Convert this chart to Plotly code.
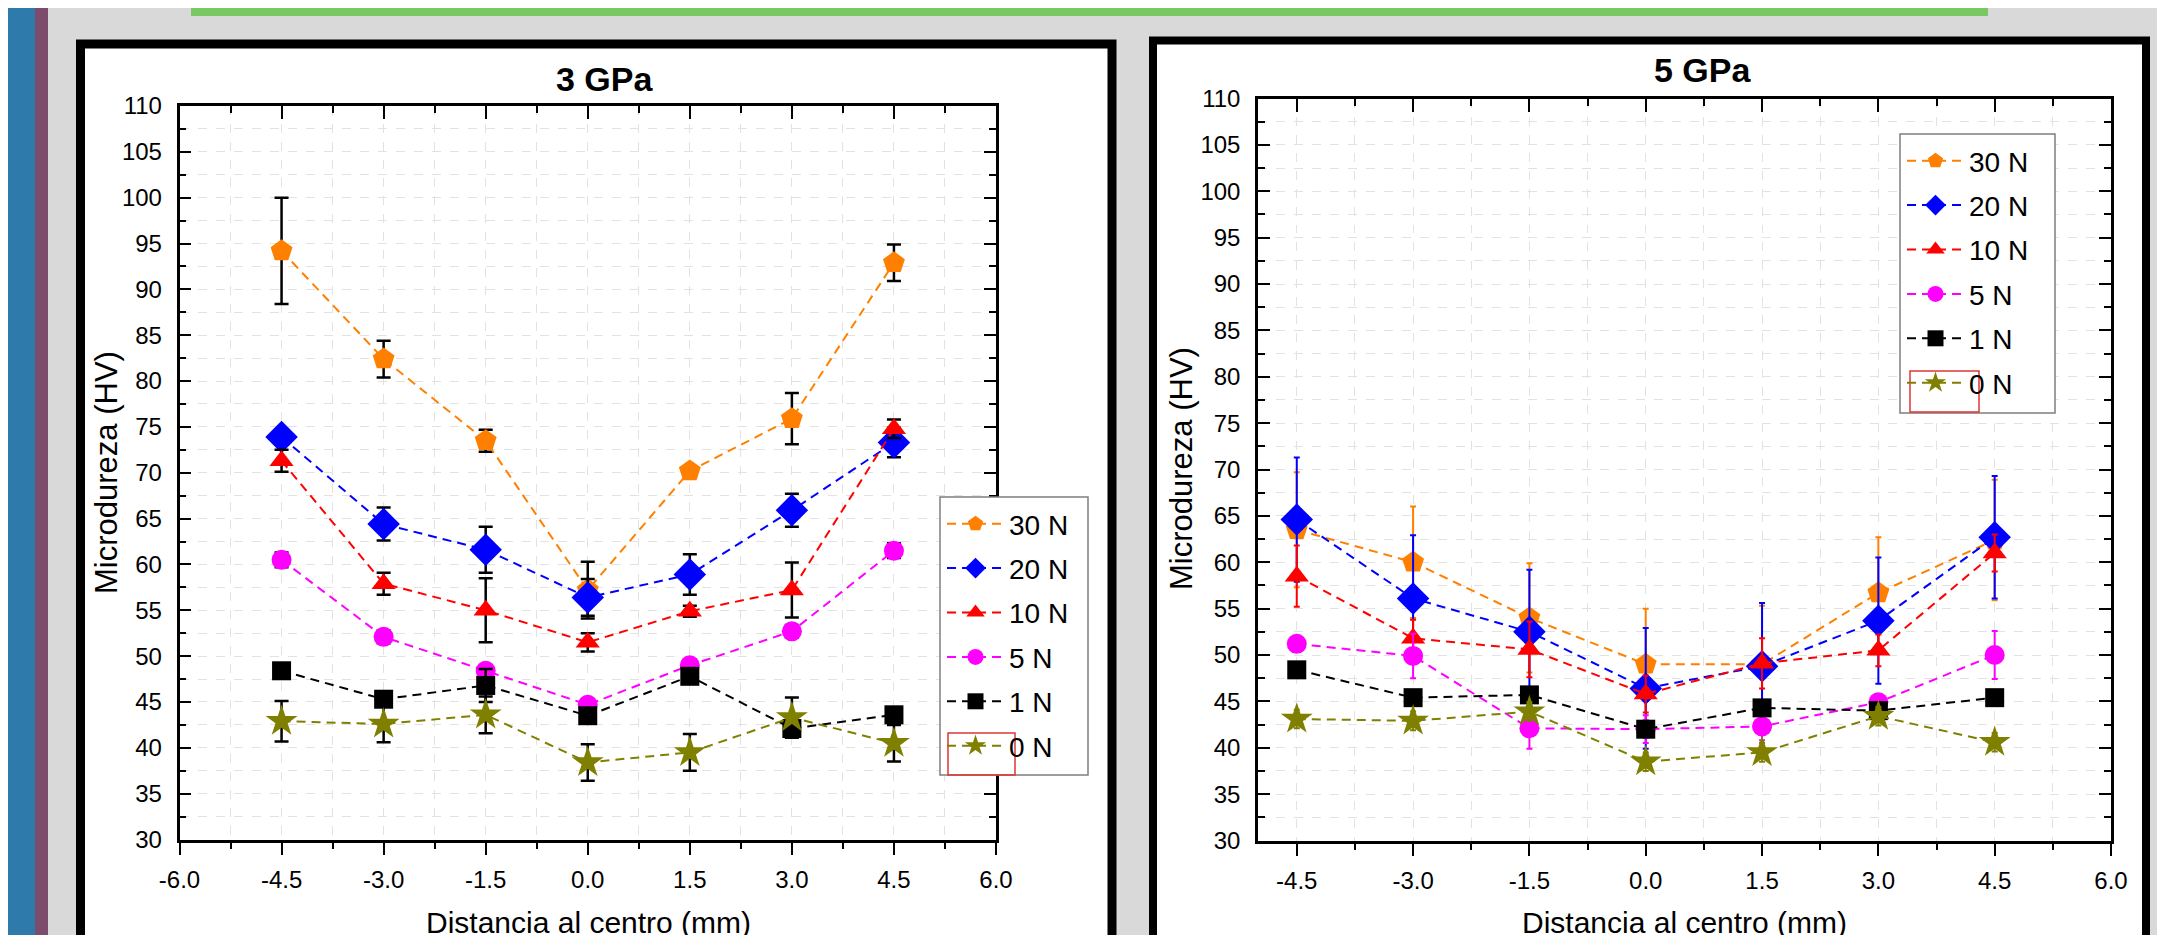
import plotly.graph_objects as go

W, H = 2165, 935

# ---------------- data ----------------
x_pos = [-4.5, -3.0, -1.5, 0.0, 1.5, 3.0, 4.5]
loads = ["30 N", "20 N", "10 N", "5 N", "1 N", "0 N"]

# 3 GPa
hv3_30N = [94.2, 82.4, 73.5, 57.2, 70.2, 75.9, 92.9]
err3_30N = [5.8, 2.0, 1.2, 3.1, 0.5, 2.8, 2.0]
hv3_20N = [73.9, 64.4, 61.6, 56.4, 58.9, 65.9, 73.3]
err3_20N = [0.6, 1.8, 2.5, 2.0, 2.2, 1.8, 1.6]
hv3_10N = [71.3, 57.9, 55.0, 51.5, 54.9, 57.2, 74.8]
err3_10N = [1.2, 1.2, 3.5, 1.0, 0.6, 3.0, 1.0]
hv3_5N = [60.5, 52.1, 48.4, 44.7, 49.0, 52.7, 61.5]
err3_5N = [0.8, 0.7, 0.5, 0.5, 0.5, 0.7, 0.8]
hv3_1N = [48.4, 45.3, 46.8, 43.5, 47.8, 42.1, 43.6]
err3_1N = [0.3, 0.5, 1.8, 0.8, 0.8, 0.5, 0.3]
hv3_0N = [42.9, 42.6, 43.6, 38.4, 39.5, 43.3, 40.5]
err3_0N = [2.2, 2.0, 2.0, 2.0, 2.0, 2.2, 2.0]

# 5 GPa
hv5_30N = [63.5, 60.0, 54.0, 49.0, 49.0, 56.7, 62.4]
err5_30N = [6.2, 6.0, 5.9, 6.0, 6.3, 6.0, 6.5]
hv5_20N = [64.6, 56.1, 52.5, 46.4, 48.8, 53.7, 62.7]
err5_20N = [6.7, 6.8, 6.7, 6.5, 6.8, 6.8, 6.6]
hv5_10N = [58.5, 51.8, 50.6, 45.8, 49.1, 50.5, 61.0]
err5_10N = [3.3, 2.0, 3.0, 2.0, 2.7, 1.7, 2.0]
hv5_5N = [51.2, 49.9, 42.1, 42.0, 42.3, 44.9, 50.0]
err5_5N = [0.8, 2.4, 2.2, 1.5, 1.5, 0.8, 2.6]
hv5_1N = [48.4, 45.4, 45.7, 42.0, 44.3, 44.0, 45.4]
err5_1N = [0.8, 0.8, 0.8, 0.8, 0.8, 0.8, 0.8]
hv5_0N = [43.1, 42.9, 43.9, 38.5, 39.5, 43.4, 40.6]
err5_0N = [1.0, 1.0, 1.0, 1.0, 1.0, 1.0, 1.0]

y_ticks = [30, 35, 40, 45, 50, 55, 60, 65, 70, 75, 80, 85, 90, 95, 100, 105, 110]
y_tick_labels = [str(v) for v in y_ticks]
x_ticks_3 = [-6.0, -4.5, -3.0, -1.5, 0.0, 1.5, 3.0, 4.5, 6.0]
x_tick_labels_3 = ["-6.0", "-4.5", "-3.0", "-1.5", "0.0", "1.5", "3.0", "4.5", "6.0"]
x_ticks_5 = [-4.5, -3.0, -1.5, 0.0, 1.5, 3.0, 4.5, 6.0]
x_tick_labels_5 = ["-4.5", "-3.0", "-1.5", "0.0", "1.5", "3.0", "4.5", "6.0"]

titles = ["3 GPa", "5 GPa"]
x_title = "Distancia al centro (mm)"
y_title = "Microdureza (HV)"

# ---------------- styles ----------------
colors = ["#FF8000", "#0000FF", "#FF0000", "#FF00FF", "#000000", "#808000"]
symbols = ["pentagon", "diamond", "triangle-up", "circle", "square", "star"]
msizes = [23, 25, 21, 20, 19, 24]
FONT = "Liberation Sans, Arial, sans-serif"


def px(x):
    return x / W


def py(y):
    return 1 - y / H


series3 = [(hv3_30N, err3_30N), (hv3_20N, err3_20N), (hv3_10N, err3_10N),
           (hv3_5N, err3_5N), (hv3_1N, err3_1N), (hv3_0N, err3_0N)]
series5 = [(hv5_30N, err5_30N), (hv5_20N, err5_20N), (hv5_10N, err5_10N),
           (hv5_5N, err5_5N), (hv5_1N, err5_1N), (hv5_0N, err5_0N)]

fig = go.Figure()

for i, (vals, errs) in enumerate(series3):
    fig.add_trace(go.Scatter(
        x=x_pos, y=vals, name=loads[i], mode="lines+markers",
        xaxis="x", yaxis="y", legend="legend", legendgroup="a%d" % i,
        line=dict(color=colors[i], width=2, dash="9px,6px"),
        marker=dict(symbol=symbols[i], size=msizes[i], color=colors[i], line=dict(width=0)),
        error_y=dict(type="data", array=errs, color="black", thickness=2.5, width=7),
    ))

for i, (vals, errs) in enumerate(series5):
    fig.add_trace(go.Scatter(
        x=x_pos, y=vals, name=loads[i], mode="lines+markers",
        xaxis="x2", yaxis="y2", legend="legend2", legendgroup="b%d" % i,
        line=dict(color=colors[i], width=2, dash="9px,6px"),
        marker=dict(symbol=symbols[i], size=msizes[i], color=colors[i], line=dict(width=0)),
        error_y=dict(type="data", array=errs, color=colors[i], thickness=2, width=3),
    ))

# empty helpers so the top tick axes render
fig.add_trace(go.Scatter(x=[None], y=[None], xaxis="x3", yaxis="y", showlegend=False, hoverinfo="skip"))
fig.add_trace(go.Scatter(x=[None], y=[None], xaxis="x4", yaxis="y2", showlegend=False, hoverinfo="skip"))

grid = dict(showgrid=True, gridcolor="#e2e2e2", griddash="dash", gridwidth=1)


def xaxis_main(dom, rng, tv, tt, anchor):
    return dict(domain=dom, range=rng, anchor=anchor, tickmode="array", tickvals=tv, ticktext=tt,
                ticks="outside", ticklen=13, tickwidth=2, tickcolor="black", automargin=False,
                showline=True, linewidth=2.5, linecolor="black", mirror=True,
                showgrid=False, zeroline=False,
                tickfont=dict(family=FONT, size=24, color="black"), ticklabelstandoff=4,
                minor=dict(dtick=0.75, tick0=-6, ticks="outside", ticklen=7, tickwidth=2,
                           tickcolor="black", **grid))


def xaxis_top(dom, rng, tv, ov, anchor):
    return dict(domain=dom, range=rng, anchor=anchor, overlaying=ov, side="top",
                tickmode="array", tickvals=tv, showticklabels=False, automargin=False,
                ticks="inside", ticklen=13, tickwidth=2, tickcolor="black",
                showline=False, showgrid=False, zeroline=False,
                minor=dict(dtick=0.75, tick0=-6, ticks="inside", ticklen=7, tickwidth=2,
                           tickcolor="black", showgrid=False))


def yaxis_main(dom, anchor):
    return dict(domain=dom, range=[30, 110], anchor=anchor, tickmode="array",
                tickvals=y_ticks, ticktext=y_tick_labels, automargin=False,
                ticks="inside", ticklen=12, tickwidth=2, tickcolor="black",
                showline=True, linewidth=2.5, linecolor="black", mirror="ticks",
                showgrid=False, zeroline=False,
                tickfont=dict(family=FONT, size=24, color="black"), ticklabelstandoff=10,
                minor=dict(dtick=2.5, tick0=30, ticks="inside", ticklen=7, tickwidth=2,
                           tickcolor="black", **grid))


dx3 = [px(171.5), px(988)]
dy3 = [py(831.5), py(98)]
dx5 = [px(1250), px(2103)]
dy5 = [py(832.5), py(90.5)]

fig.update_layout(
    width=W, height=H, margin=dict(l=0, r=0, t=0, b=0, pad=0, autoexpand=False),
    paper_bgcolor="#d9d9d9", plot_bgcolor="white",
    font=dict(family=FONT, color="black"),
    xaxis=xaxis_main(dx3, [-6, 6], x_ticks_3, x_tick_labels_3, "y"),
    yaxis=yaxis_main(dy3, "x"),
    xaxis2=xaxis_main(dx5, [-5, 6], x_ticks_5, x_tick_labels_5, "y2"),
    yaxis2=yaxis_main(dy5, "x2"),
    xaxis3=xaxis_top(dx3, [-6, 6], x_ticks_3, "x", "y"),
    xaxis4=xaxis_top(dx5, [-5, 6], x_ticks_5, "x2", "y2"),
    legend=dict(x=px(934), y=py(491), xanchor="left", yanchor="top",
                bgcolor="rgba(0,0,0,0)", borderwidth=0, tracegroupgap=5,
                itemwidth=57, font=dict(family=FONT, size=28, color="black"),
                traceorder="grouped"),
    legend2=dict(x=px(1894), y=py(128), xanchor="left", yanchor="top",
                 bgcolor="rgba(0,0,0,0)", borderwidth=0, tracegroupgap=5,
                 itemwidth=57, font=dict(family=FONT, size=28, color="black"),
                 traceorder="grouped"),
    showlegend=True,
)

shapes = [
    # left decorative strips
    dict(type="rect", xref="paper", yref="paper", x0=0, x1=px(27), y0=0, y1=1,
         fillcolor="#2e7bab", line=dict(width=0), layer="below"),
    dict(type="rect", xref="paper", yref="paper", x0=px(27), x1=px(40), y0=0, y1=1,
         fillcolor="#7d4b6c", line=dict(width=0), layer="below"),
    # green bar
    dict(type="rect", xref="paper", yref="paper", x0=px(183), x1=px(1980), y0=py(8), y1=1,
         fillcolor="#7ac862", line=dict(width=0), layer="below"),
    # panels
    dict(type="rect", xref="paper", yref="paper", x0=px(72.5), x1=px(1104), y0=py(960), y1=py(36),
         fillcolor="white", line=dict(color="black", width=9), layer="below"),
    dict(type="rect", xref="paper", yref="paper", x0=px(1145), x1=px(2138), y0=py(960), y1=py(32.5),
         fillcolor="white", line=dict(color="black", width=8), layer="below"),
    # legend boxes
    dict(type="rect", xref="paper", yref="paper", x0=px(932), x1=px(1080), y0=py(767), y1=py(489),
         fillcolor="white", line=dict(color="#7f7f7f", width=1.5), layer="above"),
    dict(type="rect", xref="paper", yref="paper", x0=px(1892), x1=px(2047), y0=py(405), y1=py(126),
         fillcolor="white", line=dict(color="#7f7f7f", width=1.5), layer="above"),
    # red selection boxes around the 0 N symbol
    dict(type="rect", xref="paper", yref="paper", x0=px(940), x1=px(1007), y0=py(767), y1=py(725),
         fillcolor="rgba(0,0,0,0)", line=dict(color="#e03535", width=1.5), layer="above"),
    dict(type="rect", xref="paper", yref="paper", x0=px(1902), x1=px(1971), y0=py(404), y1=py(363),
         fillcolor="rgba(0,0,0,0)", line=dict(color="#e03535", width=1.5), layer="above"),
]
fig.update_layout(shapes=shapes)

ann = [
    dict(text="<b>%s</b>" % titles[0], x=px(596), y=py(71), xref="paper", yref="paper",
         xanchor="center", yanchor="middle", showarrow=False, font=dict(family=FONT, size=34)),
    dict(text="<b>%s</b>" % titles[1], x=px(1694), y=py(62), xref="paper", yref="paper",
         xanchor="center", yanchor="middle", showarrow=False, font=dict(family=FONT, size=34)),
    dict(text=y_title, x=px(98), y=py(465), xref="paper", yref="paper", textangle=-90,
         xanchor="center", yanchor="middle", showarrow=False, font=dict(family=FONT, size=31)),
    dict(text=y_title, x=px(1173), y=py(461), xref="paper", yref="paper", textangle=-90,
         xanchor="center", yanchor="middle", showarrow=False, font=dict(family=FONT, size=31)),
    dict(text=x_title, x=px(580), y=py(933), xref="paper", yref="paper",
         xanchor="center", yanchor="bottom", showarrow=False, font=dict(family=FONT, size=30)),
    dict(text=x_title, x=px(1676), y=py(933), xref="paper", yref="paper",
         xanchor="center", yanchor="bottom", showarrow=False, font=dict(family=FONT, size=30)),
]
fig.update_layout(annotations=ann)

fig.write_html("out.html")
